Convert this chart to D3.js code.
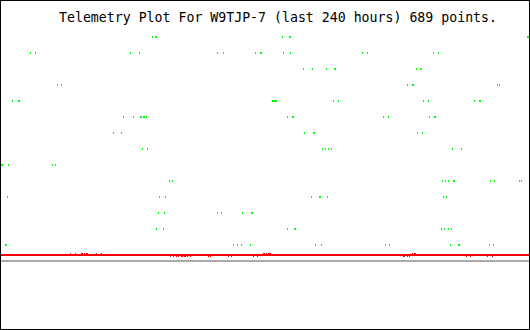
<!DOCTYPE html>
<html>
<head>
<meta charset="utf-8">
<script src="https://cdn.jsdelivr.net/npm/d3@7"></script>
<style>
  html, body { margin: 0; padding: 0; background: #fff; }
  svg { display: block; }
</style>
</head>
<body>
<svg id="chart" width="530" height="330"></svg>
<script>
// Telemetry plot: hours since start on x, reading level on y

const title = 'Telemetry Plot For W9TJP-7 (last 240 hours) 689 points.';

// green channel: hour of each sample, per level
const greenLevels = [14, 13, 12, 11, 10, 9, 8, 7, 6, 5, 4, 3, 2, 1];
const greenHours = [
    [68.6, 70.0, 70.5, 127.7, 130.9, 131.4, 239.1, 239.5],
    [13.2, 15.5, 58.6, 62.7, 98.2, 100.9, 115.5, 117.7, 118.2, 128.2, 131.4, 164.1, 166.4, 196.4, 198.6],
    [137.3, 141.4, 147.7, 151.4, 151.8, 188.6, 190.5, 190.9],
    [25.5, 27.3, 184.5, 186.8, 187.3, 225.5, 226.4],
    [5.0, 7.7, 8.2, 123.2, 123.6, 124.1, 124.5, 125.0, 150.9, 153.2, 191.8, 194.1, 215.0, 217.3, 217.7],
    [55.5, 60.0, 63.2, 63.6, 64.5, 65.0, 65.9, 130.0, 132.3, 132.7, 173.6, 175.9, 194.5, 196.8, 197.3],
    [50.9, 54.5, 137.7, 141.8, 142.3, 189.1, 191.4],
    [64.1, 66.4, 145.9, 147.3, 148.6, 150.0, 205.0, 209.1],
    [0.0, 0.5, 3.2, 23.2, 24.5],
    [76.4, 77.7, 200.5, 201.8, 203.2, 205.5, 205.9, 222.3, 224.1, 235.5, 236.4],
    [2.7, 71.8, 74.5, 140.9, 144.5, 145.0, 148.2, 200.9, 202.3],
    [71.4, 74.1, 98.2, 100.0, 109.5, 113.6, 114.1],
    [70.5, 73.6, 130.0, 133.2, 133.6, 200.0, 201.4, 203.2, 204.5],
    [1.8, 2.3, 105.5, 107.3, 109.1, 113.2, 142.7, 145.5, 174.5, 176.4, 204.1, 207.7, 208.2, 221.8, 223.6]
];

// red channel: steady level with short excursions
const redLevel = 0.375;
const redHigh = 0.4375;
const redLow = 0.3125;
const redHighHours = [31.4, 33.6, 36.4, 36.8, 37.7, 38.6, 39.1, 43.2, 45.5,
    119.1, 119.5, 120.5, 121.4, 121.8, 122.3, 186.8, 187.7, 188.2];
const redLowHours = [76.8, 78.2, 79.5, 80.5, 81.8, 82.3, 83.2, 83.6, 84.5, 85.9,
    94.1, 95.0, 103.2, 104.5, 114.5, 116.4, 182.7, 183.2, 184.5, 185.5,
    211.4, 213.2, 220.9, 223.2];

// zero baseline
const baseLevel = 0;

const svg = d3.select('#chart');
const width = 530;
const height = 330;

const x = d3.scaleLinear().domain([0, 240]).range([1, 529]);
const y = d3.scaleLinear().domain([0, 14]).range([261, 37]);

svg.append('rect')
    .attr('width', width)
    .attr('height', height)
    .attr('fill', '#fff');

svg.append('text')
    .attr('x', 59)
    .attr('y', 22)
    .attr('font-family', '"DejaVu Sans Mono", monospace')
    .attr('font-size', '13.3px')
    .attr('textLength', 438)
    .attr('lengthAdjust', 'spacingAndGlyphs')
    .attr('fill', '#000')
    .text(title);

const plot = svg.append('g').attr('shape-rendering', 'crispEdges');

// grey baseline
plot.append('line')
    .attr('x1', x(0)).attr('x2', x(240))
    .attr('y1', y(baseLevel)).attr('y2', y(baseLevel))
    .attr('stroke', '#aaaaaa')
    .attr('stroke-width', 2);

// red channel
plot.append('path')
    .datum([[0, redLevel], [240, redLevel]])
    .attr('d', d3.line().x(d => x(d[0])).y(d => y(d[1])))
    .attr('stroke', '#ff0000')
    .attr('stroke-width', 2)
    .attr('fill', 'none');

const redPts = redHighHours.map(h => [h, redHigh])
    .concat(redLowHours.map(h => [h, redLow]));

plot.selectAll('.red-pt')
    .data(redPts)
    .enter()
    .append('rect')
    .attr('class', 'red-pt')
    .attr('x', d => Math.round(x(d[0])))
    .attr('y', d => y(d[1]) - 1)
    .attr('width', 1)
    .attr('height', 2)
    .attr('fill', '#ff0000');

// green channel
const greenPts = [];
greenLevels.forEach((lvl, i) => {
    greenHours[i].forEach(h => greenPts.push([h, lvl]));
});

plot.selectAll('.green-pt')
    .data(greenPts)
    .enter()
    .append('rect')
    .attr('class', 'green-pt')
    .attr('x', d => Math.round(x(d[0])))
    .attr('y', d => y(d[1]) - 1)
    .attr('width', 1)
    .attr('height', 2)
    .attr('fill', '#00ff00');

// frame
svg.append('rect')
    .attr('x', 0.5)
    .attr('y', 0.5)
    .attr('width', width - 1)
    .attr('height', height - 1)
    .attr('fill', 'none')
    .attr('stroke', '#000')
    .attr('stroke-width', 1);
</script>
</body>
</html>
